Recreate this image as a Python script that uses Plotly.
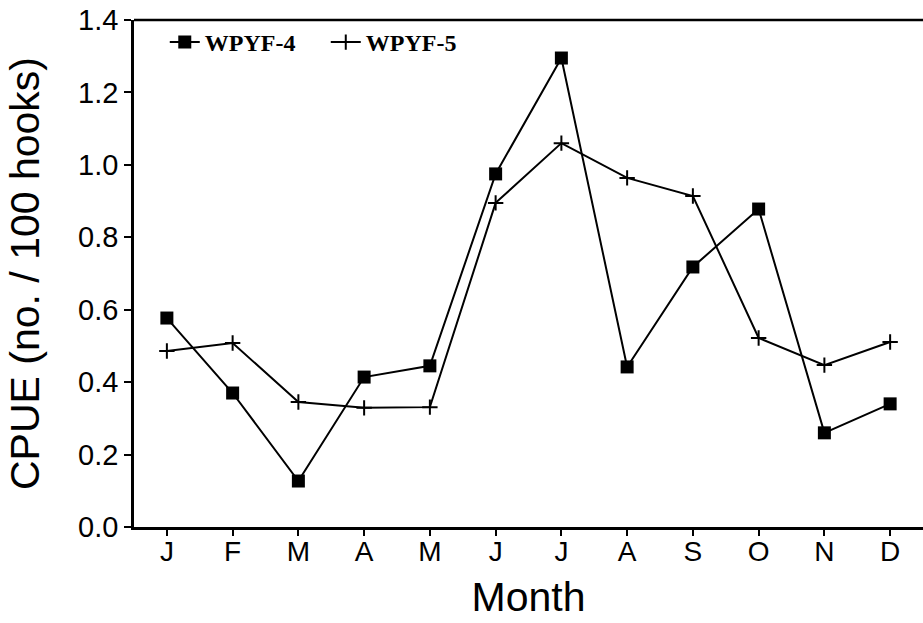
import plotly.graph_objects as go

months = ["J", "F", "M", "A", "M", "J", "J", "A", "S", "O", "N", "D"]
wpyf4 = [0.577, 0.370, 0.127, 0.414, 0.445, 0.975, 1.295, 0.442, 0.718, 0.878, 0.260, 0.340]
wpyf5 = [0.486, 0.508, 0.345, 0.329, 0.331, 0.895, 1.060, 0.964, 0.914, 0.522, 0.447, 0.511]
y_ticks = [0.0, 0.2, 0.4, 0.6, 0.8, 1.0, 1.2, 1.4]

x_idx = list(range(len(months)))

fig = go.Figure()
fig.add_trace(go.Scatter(
    x=x_idx, y=wpyf4, name="WPYF-4", mode="lines+markers",
    line=dict(color="black", width=2),
    marker=dict(symbol="square", size=13, color="black"),
))
fig.add_trace(go.Scatter(
    x=x_idx, y=wpyf5, name="WPYF-5", mode="lines+markers",
    line=dict(color="black", width=2),
    marker=dict(symbol="cross-thin", size=11, color="black",
                line=dict(color="black", width=2)),
))

fig.update_layout(
    width=923, height=623,
    margin=dict(l=134, r=0, t=20, b=96),
    paper_bgcolor="white", plot_bgcolor="white",
    showlegend=True,
    legend=dict(
        orientation="h", x=0.039, y=1.0, xanchor="left", yanchor="top",
        font=dict(family="Liberation Serif", size=24, color="black", weight="bold"),
        bgcolor="rgba(0,0,0,0)", itemwidth=30, entrywidth=116,
    ),
    xaxis=dict(
        range=[-0.5, 11.5], tickmode="array", tickvals=x_idx, ticktext=months,
        showline=True, linecolor="black", linewidth=2.5,
        ticks="outside", ticklen=6, tickwidth=2, tickcolor="black",
        showgrid=False, zeroline=False, ticklabelstandoff=-8,
        tickfont=dict(family="Liberation Sans", size=28, color="black"),
        title=dict(text="Month", standoff=16,
                   font=dict(family="Liberation Sans", size=41, color="black")),
    ),
    yaxis=dict(
        range=[0, 1.4], tickmode="array", tickvals=y_ticks,
        tickformat=".1f",
        showline=True, linecolor="black", linewidth=2.5,
        ticks="outside", ticklen=7, tickwidth=2, tickcolor="black",
        showgrid=False, zeroline=False,
        tickfont=dict(family="Liberation Sans", size=29, color="black"),
        title=dict(text="CPUE (no. / 100 hooks)", standoff=26,
                   font=dict(family="Liberation Sans", size=41, color="black")),
    ),
    shapes=[dict(type="line", xref="paper", yref="paper", x0=0, x1=1, y0=1, y1=1,
                 line=dict(color="black", width=2.5))],
)

fig.write_html("out.html")
